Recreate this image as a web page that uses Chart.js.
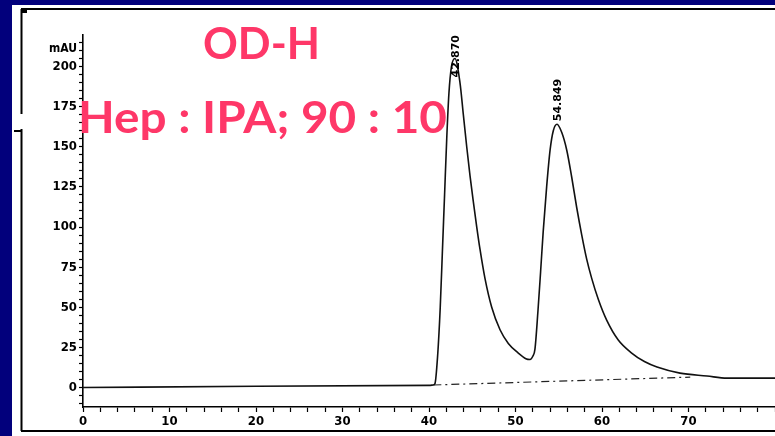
<!DOCTYPE html>
<html>
<head>
<meta charset="utf-8">
<script src="https://cdn.jsdelivr.net/npm/chart.js@4.4.0/dist/chart.umd.min.js"></script>
<style>
  html, body { margin: 0; padding: 0; background: #fff; overflow: hidden; }
  #wrap { width: 775px; height: 436px; }
</style>
</head>
<body>
<div id="wrap"><canvas id="chrom" width="775" height="436"></canvas></div>
<script>
// Chromatogram trace: retention time (min) and signal (mAU)
const times  = [0, 20, 40, 40.46, 40.69, 41.0, 41.3, 41.55, 41.8, 42.05, 42.3, 42.6, 43.0, 43.58, 43.97, 44.36, 44.74, 45.12, 45.52, 45.9, 46.47, 47.25, 48.21, 49.17, 50.32, 51.2, 51.68, 52.0, 52.25, 52.6, 52.9, 53.2, 53.6, 54.0, 54.37, 54.8, 55.34, 55.92, 56.5, 57.08, 57.66, 58.23, 58.81, 59.57, 60.54, 61.88, 63.43, 64.9, 66.36, 69.02, 72.14, 74.45, 80];
const signal = [0, 0.8, 1.4, 1.6, 2.5, 20, 50, 85, 120, 155, 183, 200, 205, 190, 170, 150, 132, 116, 100, 86, 68, 50, 36, 27.5, 21.5, 18, 17.5, 19.5, 24, 48, 72, 97, 125, 148, 160, 164, 159, 148, 131, 112, 95, 80, 68, 55, 42, 29.6, 21.5, 16.2, 12.8, 9.0, 7.2, 5.9, 5.9];

// integration baseline (dashed)
const baseTimes  = [40.5, 70.2];
const baseSignal = [1.6, 6.5];

// peak annotations
const peakTimes   = [43.0, 54.8];
const peakHeights = [205, 164];
const peakLabels  = ['42.870', '54.849'];

// labelled ticks
const xLabels = [0, 10, 20, 30, 40, 50, 60, 70];
const yLabels = [0, 25, 50, 75, 100, 125, 150, 175, 200];

const tickFont = { family: '"Liberation Sans Narrow", "DejaVu Sans Condensed", sans-serif', size: 13, weight: 'bold' };
const pink = '#fe3768';

const decor = {
  id: 'decor',
  beforeDraw(chart) {
    const c = chart.ctx;
    c.save();
    c.fillStyle = '#02007c';
    c.fillRect(0, 0, chart.width, chart.height);
    c.fillStyle = '#fff';
    c.fillRect(12, 5, chart.width - 12, chart.height - 5);
    // frame of the scanned print
    c.strokeStyle = '#000';
    c.lineWidth = 2;
    c.beginPath();
    c.moveTo(21, 9); c.lineTo(chart.width, 9);
    c.moveTo(21.5, 9); c.lineTo(21.5, 114);
    c.moveTo(21.5, 129); c.lineTo(21.5, 431);
    c.moveTo(21, 431); c.lineTo(chart.width, 431);
    c.moveTo(14, 131); c.lineTo(21, 131);
    c.stroke();
    c.fillStyle = '#000';
    c.fillRect(22, 10, 5, 3);
    c.restore();
  },
  afterDraw(chart) {
    const c = chart.ctx;
    const xs = chart.scales.x, ys = chart.scales.y;
    c.save();

    // y unit
    c.fillStyle = '#000';
    c.font = 'bold 12px "Liberation Sans Narrow", "DejaVu Sans Condensed", sans-serif';
    c.textAlign = 'left';
    c.textBaseline = 'alphabetic';
    c.fillText('mAU', 49, 52);

    // retention time labels over the peaks
    c.font = 'bold 11px "DejaVu Sans", sans-serif';
    peakLabels.forEach((lab, i) => {
      const px = xs.getPixelForValue(peakTimes[i]);
      const py = ys.getPixelForValue(peakHeights[i]);
      const len = c.measureText(lab).width;
      const top = Math.max(chart.chartArea.top, py - 3 - len);
      c.save();
      c.translate(px + 4, top + len);
      c.rotate(-Math.PI / 2);
      c.textAlign = 'left';
      c.fillText(lab, 0, 0);
      c.restore();
    });

    // pink annotation text
    c.fillStyle = pink;
    c.font = 'bold 44px Lato, "Open Sans", sans-serif';
    const fit = (txt, x0, x1, base) => {
      const w = c.measureText(txt).width;
      c.save();
      c.translate(x0, base);
      c.scale((x1 - x0) / w, 1);
      c.textAlign = 'left';
      c.fillText(txt, 0, 0);
      c.restore();
    };
    fit('OD-H', 203, 320, 59);
    fit('Hep : IPA; 90 : 10', 78, 447, 133);
    c.restore();
  }
};

const ctx = document.getElementById('chrom').getContext('2d');
const chart = new Chart(ctx, {
  type: 'line',
  data: {
    datasets: [
      {
        data: times.map((t, i) => ({ x: t, y: signal[i] })),
        borderColor: '#111',
        borderWidth: 1.6,
        pointRadius: 0,
        cubicInterpolationMode: 'monotone'
      },
      {
        data: baseTimes.map((t, i) => ({ x: t, y: baseSignal[i] })),
        borderColor: '#222',
        borderWidth: 1.2,
        borderDash: [8, 4, 2, 4],
        pointRadius: 0
      }
    ]
  },
  options: {
    responsive: false,
    animation: false,
    layout: { padding: { top: 35, left: 0, right: 0, bottom: 0 } },
    plugins: { legend: { display: false }, tooltip: { enabled: false } },
    scales: {
      x: {
        type: 'linear',
        min: 0,
        max: 80,
        afterBuildTicks: s => {
          const t = [];
          for (let v = 0; v <= 80; v += 2) t.push({ value: v });
          s.ticks = t;
        },
        afterFit: s => { s.height = 29; s.paddingLeft = 0; s.paddingRight = 0; },
        ticks: {
          autoSkip: false,
          maxRotation: 0,
          padding: 2,
          color: '#000',
          font: tickFont,
          callback: v => xLabels.includes(v) ? String(v) : ''
        },
        grid: { drawOnChartArea: false, tickLength: 5, color: '#000', tickWidth: 1.2 },
        border: { color: '#000', width: 1.6 }
      },
      y: {
        min: -12.1,
        max: 219.6,
        afterBuildTicks: s => {
          const t = [];
          for (let v = -10; v <= 215; v += 5) t.push({ value: v });
          s.ticks = t;
        },
        afterFit: s => { s.width = 83; s.paddingTop = 0; s.paddingBottom = 0; },
        ticks: {
          autoSkip: false,
          padding: 2,
          color: '#000',
          font: tickFont,
          callback: v => yLabels.includes(v) ? String(v) : ''
        },
        grid: { drawOnChartArea: false, tickLength: 4, color: '#000', tickWidth: 1.2 },
        border: { color: '#000', width: 1.6 }
      }
    }
  },
  plugins: [decor]
});
</script>
</body>
</html>
